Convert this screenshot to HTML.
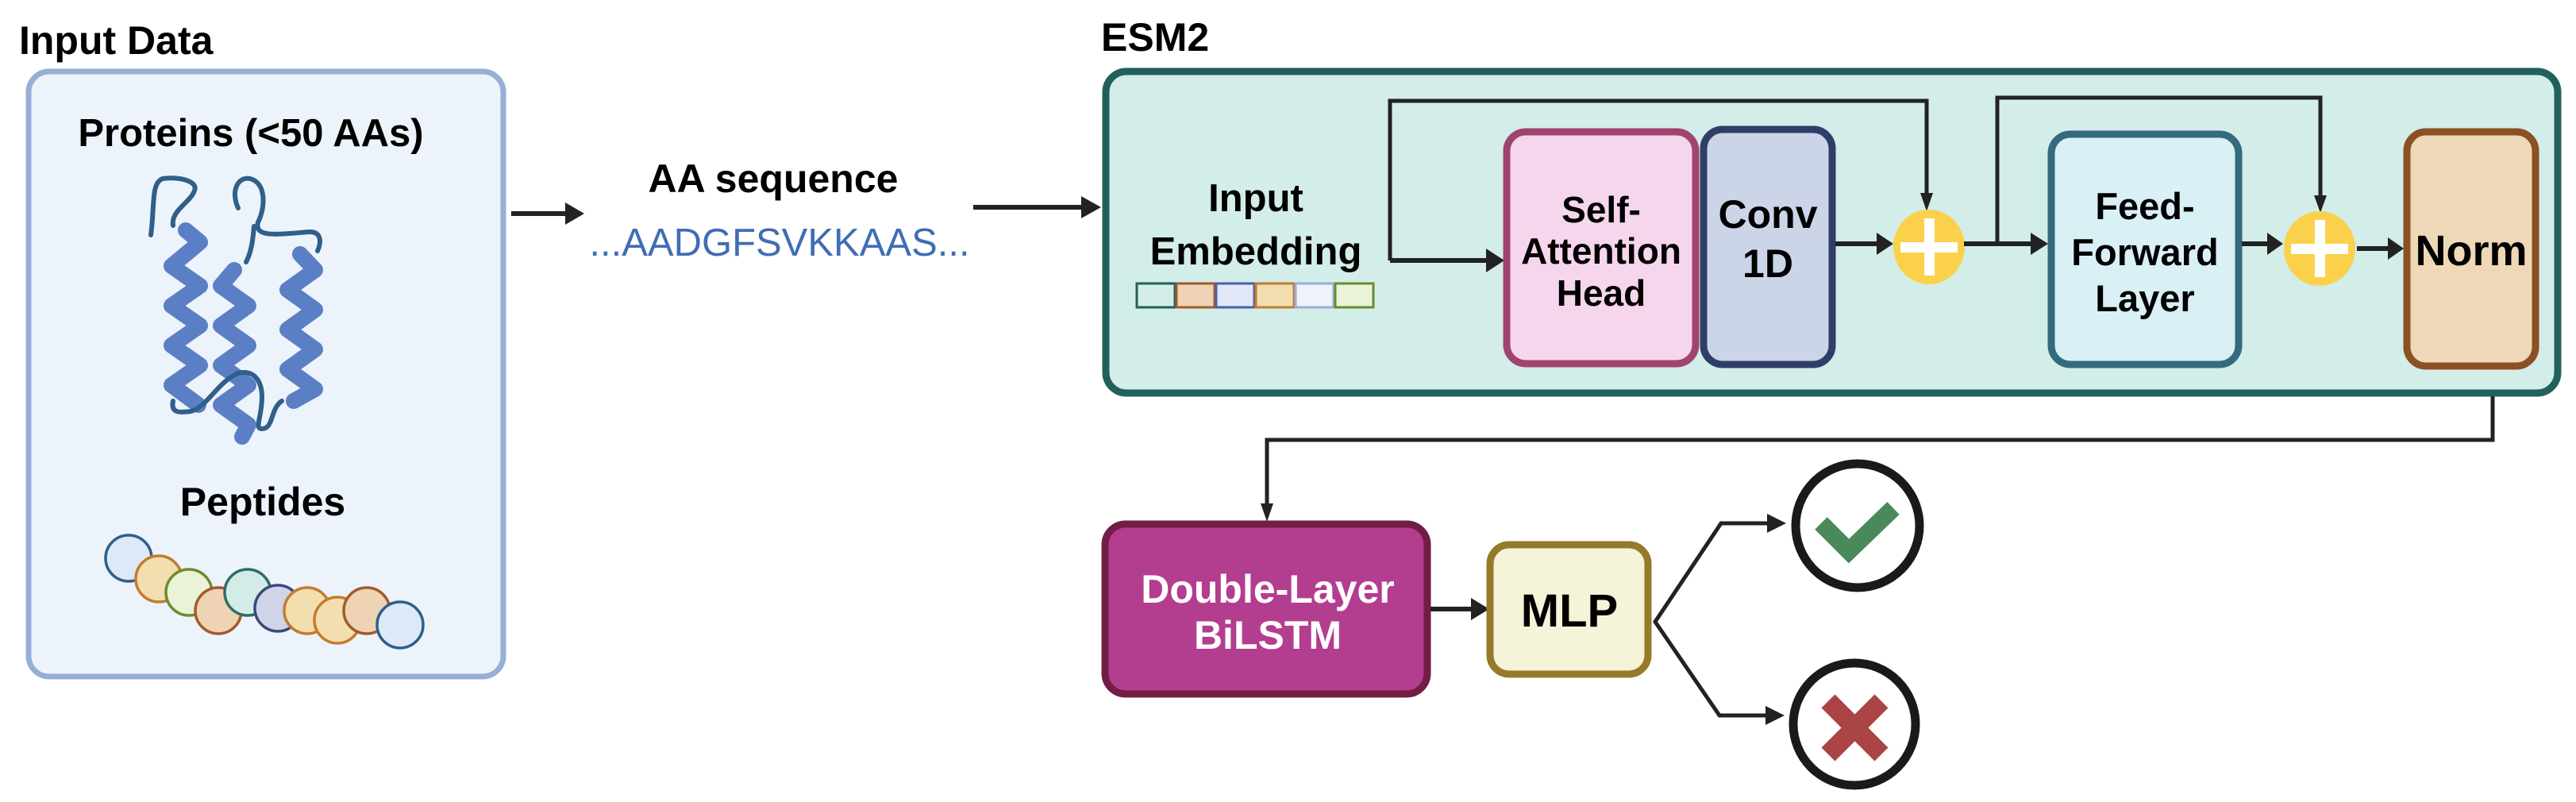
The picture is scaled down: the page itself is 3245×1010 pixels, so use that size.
<!DOCTYPE html>
<html><head><meta charset="utf-8"><style>
html,body{margin:0;padding:0;background:#fff;}
svg{display:block;}
text{font-family:"Liberation Sans",sans-serif;font-weight:bold;}
</style></head><body>
<svg width="3245" height="1010" viewBox="0 0 3245 1010" xmlns="http://www.w3.org/2000/svg">
<!-- Input Data -->
<text x="24" y="68" font-size="50" fill="#000">Input Data</text>
<rect x="36" y="90" width="598" height="762" rx="26" fill="#edf3fb" stroke="#97aed6" stroke-width="7"/>
<text x="316" y="184" font-size="49" text-anchor="middle" fill="#000">Proteins (&lt;50 AAs)</text>
<!-- protein ribbon -->
<g fill="none" stroke-linecap="round" stroke-linejoin="round">
<path d="M190 296 C195 260 190 230 205 225 C225 222 250 228 245 240 C240 255 215 265 218 284" stroke="#2f5f8a" stroke-width="6"/>
<path d="M300 262 C290 240 300 222 315 225 C335 230 335 260 325 280 C320 300 350 295 390 292 C405 292 405 305 400 316" stroke="#2f5f8a" stroke-width="6"/>
<path d="M320 285 C318 310 315 320 310 330" stroke="#2f5f8a" stroke-width="6"/>
<polyline points="234,290 252,305 216,335 252,360 216,385 252,410 216,435 252,460 216,485 250,510" stroke="#5b7fc4" stroke-width="20"/>
<polyline points="295,340 278,360 313,385 278,410 313,435 278,460 313,485 278,510 313,535 305,550" stroke="#5b7fc4" stroke-width="20"/>
<polyline points="378,320 397,340 362,365 397,390 362,415 397,440 362,465 397,490 370,505" stroke="#5b7fc4" stroke-width="20"/>
<path d="M218 505 C215 520 225 520 240 518 C260 514 275 480 300 470 C320 465 330 480 330 500 C330 525 320 540 330 540 C345 540 340 515 355 505" stroke="#2f5f8a" stroke-width="6"/>
</g>
<text x="331" y="649" font-size="50" text-anchor="middle" fill="#000">Peptides</text>
<g stroke-width="3.5">
<circle cx="162" cy="703" r="29" fill="#dde9f7" stroke="#2f5f8a"/>
<circle cx="200" cy="729" r="29" fill="#f3deb0" stroke="#c27d2d"/>
<circle cx="238" cy="746" r="29" fill="#eaf3d8" stroke="#6b8b2e"/>
<circle cx="275" cy="769" r="29" fill="#eed4b5" stroke="#a35a2b"/>
<circle cx="312" cy="746" r="29" fill="#d4ece7" stroke="#2e6e66"/>
<circle cx="350" cy="766" r="29" fill="#cfd4e8" stroke="#3a4a7a"/>
<circle cx="387" cy="769" r="29" fill="#f3deb0" stroke="#c27d2d"/>
<circle cx="425" cy="781" r="29" fill="#f3deb0" stroke="#c27d2d"/>
<circle cx="462" cy="769" r="29" fill="#eed4b5" stroke="#a35a2b"/>
<circle cx="504" cy="787" r="29" fill="#dde9f7" stroke="#2f5f8a"/>
</g>
<!-- arrow 1 -->
<line x1="644" y1="269" x2="715" y2="269" stroke="#222" stroke-width="6"/>
<polygon points="712,255 736,269 712,283" fill="#222"/>
<text x="974" y="242" font-size="50" text-anchor="middle" fill="#000">AA sequence</text>
<text x="982" y="322" font-size="49" text-anchor="middle" fill="#3f6db5" style="font-weight:normal">...AADGFSVKKAAS...</text>
<line x1="1226" y1="261" x2="1365" y2="261" stroke="#222" stroke-width="6"/>
<polygon points="1362,247 1387,261 1362,275" fill="#222"/>
<!-- ESM2 -->
<text x="1387" y="64" font-size="50" fill="#000">ESM2</text>
<rect x="1393" y="90" width="1829" height="405" rx="26" fill="#d3ede9" stroke="#22605a" stroke-width="9"/>
<text x="1582" y="266" font-size="49" text-anchor="middle" fill="#000">Input</text>
<text x="1582" y="333" font-size="49" text-anchor="middle" fill="#000">Embedding</text>
<g stroke-width="3">
<rect x="1432" y="357" width="48" height="30" fill="#d3ede9" stroke="#22605a"/>
<rect x="1482" y="357" width="48" height="30" fill="#eed4b5" stroke="#a35a2b"/>
<rect x="1532" y="357" width="48" height="30" fill="#e3e8f8" stroke="#4a5fa8"/>
<rect x="1582" y="357" width="48" height="30" fill="#f3deb0" stroke="#c27d2d"/>
<rect x="1632" y="357" width="48" height="30" fill="#eef3fb" stroke="#97aed6"/>
<rect x="1682" y="357" width="48" height="30" fill="#eaf3d8" stroke="#6b8b2e"/>
</g>
<!-- skip 1 -->
<polyline points="1751,328 1751,127 2427,127 2427,245" fill="none" stroke="#222" stroke-width="5"/>
<polygon points="2419,243 2435,243 2427,266" fill="#222"/>
<line x1="1751" y1="328" x2="1875" y2="328" stroke="#222" stroke-width="6"/>
<polygon points="1872,313 1895,328 1872,343" fill="#222"/>
<!-- blocks -->
<rect x="1898" y="166" width="238" height="292" rx="24" fill="#f6d6ec" stroke="#a0446f" stroke-width="9"/>
<text x="2017" y="280" font-size="46" text-anchor="middle" fill="#000">Self-</text>
<text x="2017" y="332" font-size="46" text-anchor="middle" fill="#000">Attention</text>
<text x="2017" y="385" font-size="46" text-anchor="middle" fill="#000">Head</text>
<rect x="2146" y="163" width="162" height="296" rx="24" fill="#ccd4e8" stroke="#2f3e66" stroke-width="9"/>
<text x="2227" y="287" font-size="50" text-anchor="middle" fill="#000">Conv</text>
<text x="2227" y="349" font-size="50" text-anchor="middle" fill="#000">1D</text>
<line x1="2312" y1="307" x2="2366" y2="307" stroke="#222" stroke-width="6"/>
<polygon points="2364,293 2385,307 2364,321" fill="#222"/>
<ellipse cx="2430" cy="311" rx="45" ry="47" fill="#fbd14b"/>
<rect x="2424" y="275" width="13" height="72" fill="#fff"/>
<rect x="2394" y="305" width="72" height="13" fill="#fff"/>
<line x1="2474" y1="307" x2="2560" y2="307" stroke="#222" stroke-width="6"/>
<polygon points="2558,293 2580,307 2558,321" fill="#222"/>
<polyline points="2516,307 2516,123 2923,123 2923,248" fill="none" stroke="#222" stroke-width="5"/>
<polygon points="2915,246 2931,246 2923,268" fill="#222"/>
<rect x="2584" y="169" width="236" height="290" rx="24" fill="#d9f0f5" stroke="#336b7d" stroke-width="9"/>
<text x="2702" y="276" font-size="47" text-anchor="middle" fill="#000">Feed-</text>
<text x="2702" y="334" font-size="47" text-anchor="middle" fill="#000">Forward</text>
<text x="2702" y="392" font-size="47" text-anchor="middle" fill="#000">Layer</text>
<line x1="2824" y1="307" x2="2858" y2="307" stroke="#222" stroke-width="6"/>
<polygon points="2856,293 2876,307 2856,321" fill="#222"/>
<ellipse cx="2922" cy="313" rx="45" ry="47" fill="#fbd14b"/>
<rect x="2916" y="277" width="13" height="72" fill="#fff"/>
<rect x="2886" y="307" width="72" height="13" fill="#fff"/>
<line x1="2969" y1="313" x2="3010" y2="313" stroke="#222" stroke-width="6"/>
<polygon points="3008,299 3028,313 3008,327" fill="#222"/>
<rect x="3032" y="166" width="162" height="295" rx="24" fill="#eed8b8" stroke="#8b5024" stroke-width="9"/>
<text x="3113" y="334" font-size="54" text-anchor="middle" fill="#000">Norm</text>
<!-- down to BiLSTM -->
<polyline points="3140,499 3140,554 1596,554 1596,636" fill="none" stroke="#222" stroke-width="5"/>
<polygon points="1588,634 1604,634 1596,657" fill="#222"/>
<rect x="1392" y="660" width="406" height="214" rx="26" fill="#b33d8f" stroke="#721d46" stroke-width="9"/>
<text x="1597" y="759" font-size="50" text-anchor="middle" fill="#fff">Double-Layer</text>
<text x="1597" y="817" font-size="50" text-anchor="middle" fill="#fff">BiLSTM</text>
<line x1="1802" y1="767" x2="1855" y2="767" stroke="#222" stroke-width="6"/>
<polygon points="1853,753 1876,767 1853,781" fill="#222"/>
<rect x="1877" y="686" width="199" height="163" rx="24" fill="#f5f3d8" stroke="#957a2a" stroke-width="9"/>
<text x="1977" y="789" font-size="58" text-anchor="middle" fill="#000">MLP</text>
<polyline points="2230,659 2168,659 2085,783 2166,901 2228,901" fill="none" stroke="#222" stroke-width="5"/>
<polygon points="2226,647 2250,659 2226,671" fill="#222"/>
<polygon points="2224,889 2248,901 2224,913" fill="#222"/>
<circle cx="2340" cy="662" r="78" fill="#fff" stroke="#1a1a1a" stroke-width="11"/>
<polyline points="2294,659 2329,694 2385,640" fill="none" stroke="#4a8a5a" stroke-width="22" stroke-linejoin="miter"/>
<circle cx="2336" cy="912" r="77" fill="#fff" stroke="#1a1a1a" stroke-width="11"/>
<line x1="2303" y1="883" x2="2370" y2="950" stroke="#ab4444" stroke-width="24"/>
<line x1="2370" y1="883" x2="2303" y2="950" stroke="#ab4444" stroke-width="24"/>
</svg>
</body></html>
